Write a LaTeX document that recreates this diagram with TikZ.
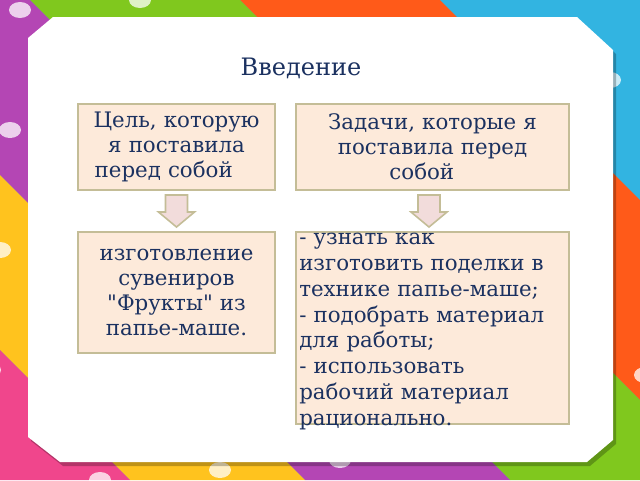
\documentclass[tikz,border=0pt]{standalone}
\usepackage{fontspec}
\setmainfont{DejaVu Serif}
\usepackage{xcolor}
\usepackage{tikz}
\usetikzlibrary{positioning,calc}

\definecolor{textblue}{HTML}{1B3160}
\definecolor{boxfill}{HTML}{FDEADA}
\definecolor{boxline}{HTML}{C4BD97}
\definecolor{arrowfill}{HTML}{F2DCDB}
\definecolor{ribpurple}{HTML}{B446B4}
\definecolor{ribgreen}{HTML}{80C81E}
\definecolor{riborange}{HTML}{FF5A19}
\definecolor{ribblue}{HTML}{32B4E1}
\definecolor{ribyellow}{HTML}{FFC31E}
\definecolor{ribpink}{HTML}{F0468C}

\tikzset{
  infobox/.style={draw=boxline, line width=1.5pt, fill=boxfill, inner sep=0pt,
                  minimum width=147.75pt},
  boxtext/.style={text=textblue, font=\fontsize{16pt}{18.75pt}\selectfont,
                  align=center, inner sep=0pt},
  blockarrow/.style={draw=boxline, line width=1.2pt, fill=arrowfill, line join=miter},
}

\begin{document}
\begin{tikzpicture}[x=0.75pt,y=-0.75pt]
  \useasboundingbox (0,0) rectangle (640,480);

  % 背景のリボン
  \begin{scope}
    \clip (0,0) rectangle (640,480);
    \fill[ribblue] (0,0) rectangle (640,480);
    \foreach \ca/\cb/\col in {-440/-240/riborange, -240/-30/ribgreen,
                              -30/175/ribpurple, 175/350/ribyellow, 350/900/ribpink}
      \fill[\col] ({-\ca},0) -- ({480-\ca},480) -- ({480-\cb},480) -- ({-\cb},0) -- cycle;
    % 水玉
    \foreach \i in {-8,...,12}
      \foreach \j in {-8,...,8}
        \fill[white, opacity=0.75] ({20+\i*55+\j*65},{10+\i*55-\j*65}) ellipse (11 and 8);
  \end{scope}

  % 白い枠
  \fill[black, opacity=0.25] (56,21) -- (580,21) -- (616,54) -- (616,444) -- (590,466)
    -- (63,466) -- (31,441) -- (31,42) -- cycle;
  \fill[white] (53,17) -- (577,17) -- (613,50) -- (613,440) -- (587,462)
    -- (60,462) -- (28,437) -- (28,38) -- cycle;

  % タイトル
  \node[text=textblue, font=\fontsize{18pt}{22pt}\selectfont] (title) at (301,68) {Введение};

  % 上の箱
  \node[infobox, boxtext, minimum height=64.5pt, text width=147.75pt] (goal) at (176.5,147)
    {Цель, которую\\я поставила\\перед собой\hspace*{1.2em}};
  \node[infobox, boxtext, minimum height=64.5pt, minimum width=204.75pt, text width=204.75pt,
        right=14.25pt of goal] (tasks)
    {Задачи, которые я\\поставила перед\\собой\hspace*{1em}};

  % 下の箱
  \node[infobox, boxtext, minimum height=90.75pt, text width=147.75pt,
        below=30pt of goal] (result)
    {изготовление\\сувениров\\\textquotedbl Фрукты\textquotedbl{} из\\папье-маше.};
  \node[infobox, minimum height=144pt, minimum width=204.75pt, below=30pt of tasks] (steps) {};
  \node[boxtext, font=\fontsize{16pt}{19.3pt}\selectfont, align=left, text width=200pt,
        anchor=west] (stepstext) at ($(steps.west)+(4,3.5)$)
    {- узнать как\\изготовить поделки в\\технике папье-маше;\\- подобрать материал\\для работы;\\- использовать\\рабочий материал\\рационально.};

  % 矢印
  \coordinate (arrgoal) at ($(goal.south)!0.5!(result.north)$);
  \coordinate (arrtasks) at ($(tasks.south)!0.5!(steps.north)+(-3.5,0)$);
  \foreach \c in {arrgoal,arrtasks}
    \draw[blockarrow, shift={(\c)}] (-11,-16) -- (11,-16) -- (11,1) -- (18,1) -- (0,16)
      -- (-18,1) -- (-11,1) -- cycle;
\end{tikzpicture}
\end{document}
